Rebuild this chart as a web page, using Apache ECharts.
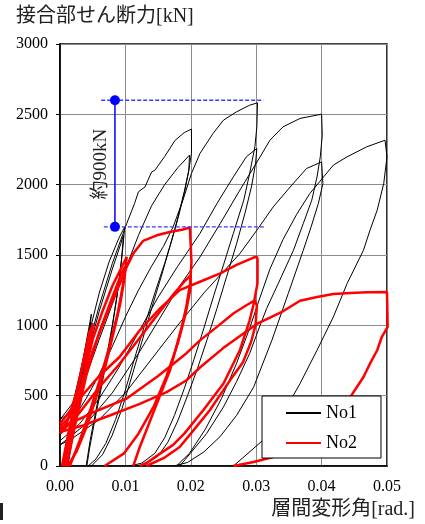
<!DOCTYPE html>
<html><head><meta charset="utf-8">
<script src="https://cdn.jsdelivr.net/npm/echarts@6/dist/echarts.min.js"></script>
<style>html,body{margin:0;padding:0;background:#fff}#c{width:425px;height:524px}</style>
</head><body><div id="c"></div>
<script>
// axis ranges [min, max, interval]
const xRange = [0, 0.05, 0.01];
const yRange = [0, 3000, 500];
const seriesNames = ['No1', 'No2'];
const titleText = '接合部せん断力[kN]';
const xName = '層間変形角[rad.]';
const noteText = '約900kN';

// No1 (black) hysteresis branches [drift, shear]
const no1S1 = [[0.0003,0],[0.001,180],[0.002,400],[0.0035,750],[0.0048,1080],[0.0045,950],[0.0036,680],[0.0024,380],[0.0012,120],[0.0006,0]];
const no1S2 = [[0,230],[0.001,300],[0.002,450],[0.003,650],[0.0042,900],[0.0047,1020],[0.0044,880],[0.0035,600],[0.0025,340],[0.0015,120],[0.0009,0]];
const no1S3 = [[0,330],[0.0015,380],[0.003,560],[0.0045,850],[0.005,960],[0.0046,850],[0.0037,620],[0.0028,400],[0.0018,160],[0.0012,0]];
const no1C1a = [[0.0005,0],[0.0015,250],[0.003,600],[0.0045,950],[0.006,1230],[0.0075,1450],[0.009,1620],[0.0099,1700],[0.0096,1550],[0.009,1300],[0.008,1000],[0.0068,700],[0.0056,420],[0.0046,180],[0.004,0]];
const no1C1b = [[0,300],[0.002,420],[0.004,760],[0.006,1100],[0.008,1400],[0.0093,1580],[0.0097,1640],[0.0094,1460],[0.0087,1200],[0.0077,900],[0.0065,600],[0.0053,320],[0.0045,120],[0.0041,0]];
const no1C2a = [[0,330],[0.002,450],[0.004,790],[0.006,1140],[0.008,1440],[0.0102,1724],[0.0114,1866],[0.012,1950],[0.013,1984],[0.014,2090],[0.0145,2102],[0.016,2200],[0.0176,2315],[0.019,2370],[0.0201,2395],[0.0201,2222],[0.0196,2080],[0.0191,1961],[0.0181,1771],[0.0171,1605],[0.016,1440],[0.0145,1230],[0.013,1010],[0.0115,780],[0.01,540],[0.0085,330],[0.007,160],[0.0055,50],[0.0043,0]];
const no1C2b = [[0,250],[0.002,380],[0.004,640],[0.006,900],[0.008,1150],[0.01,1400],[0.012,1640],[0.014,1850],[0.016,2000],[0.018,2120],[0.0198,2210],[0.0201,2222],[0.0197,2100],[0.019,1950],[0.018,1760],[0.0168,1560],[0.0155,1350],[0.014,1120],[0.0125,880],[0.011,640],[0.0095,410],[0.008,220],[0.0065,80],[0.0048,0]];
const no1C3a = [[0,220],[0.002,330],[0.004,480],[0.006,650],[0.008,850],[0.01,1060],[0.012,1250],[0.014,1420],[0.0158,1560],[0.0173,1700],[0.0188,1890],[0.0201,2080],[0.0214,2222],[0.0234,2364],[0.025,2459],[0.027,2518],[0.029,2565],[0.0302,2582],[0.0301,2411],[0.0298,2269],[0.029,2080],[0.0281,1890],[0.0265,1653],[0.025,1430],[0.0235,1210],[0.022,980],[0.0205,760],[0.019,550],[0.0175,360],[0.016,200],[0.0145,90],[0.0125,20],[0.0106,0]];
const no1C3b = [[0,180],[0.003,300],[0.006,480],[0.009,700],[0.012,950],[0.015,1200],[0.018,1420],[0.0214,1653],[0.024,1866],[0.0265,2055],[0.0285,2198],[0.0301,2258],[0.0299,2150],[0.0293,1990],[0.0283,1800],[0.027,1580],[0.0255,1350],[0.024,1120],[0.0225,900],[0.021,690],[0.0195,500],[0.018,320],[0.0165,170],[0.015,70],[0.013,10],[0.0112,0]];
const no1C4a = [[0,150],[0.004,300],[0.008,520],[0.012,800],[0.015,1030],[0.018,1260],[0.0214,1486],[0.0245,1724],[0.0275,1961],[0.0306,2198],[0.0321,2316],[0.0341,2411],[0.0367,2471],[0.04,2501],[0.0401,2350],[0.0398,2198],[0.0393,2055],[0.0385,1890],[0.0372,1724],[0.0357,1534],[0.0334,1300],[0.0316,1120],[0.0306,1000],[0.029,800],[0.027,600],[0.025,420],[0.0224,230],[0.0199,88],[0.0183,0]];
const no1C4b = [[0,150],[0.002,200],[0.006,330],[0.01,520],[0.014,760],[0.018,1000],[0.022,1230],[0.0275,1510],[0.0301,1676],[0.0326,1842],[0.0352,1984],[0.0377,2115],[0.04,2162],[0.0402,2008],[0.0395,1866],[0.0384,1700],[0.0372,1534],[0.0349,1226],[0.0324,894],[0.0296,560],[0.027,360],[0.0245,210],[0.022,100],[0.0195,25],[0.0174,0]];
const no1C5 = [[0.0178,0],[0.0198,90],[0.0222,260],[0.0247,480],[0.027,730],[0.029,980],[0.0306,1200],[0.0321,1400],[0.0341,1610],[0.0362,1790],[0.0382,1937],[0.0403,2055],[0.0418,2139],[0.0439,2198],[0.0469,2269],[0.0497,2316],[0.05,2310],[0.05,2198],[0.0495,2008],[0.0485,1819],[0.0474,1676],[0.0464,1534],[0.0439,1297],[0.0418,1060],[0.0393,823],[0.0367,586],[0.0347,420],[0.031,182],[0.028,60],[0.0265,0]];

// No2 (red) hysteresis branches [drift, shear]
const no2S1 = [[0.0003,0],[0.0015,280],[0.003,620],[0.0045,950],[0.0051,1013],[0.0047,900],[0.0037,650],[0.0025,380],[0.0012,120],[0.0005,0]];
const no2S2 = [[0,250],[0.001,300],[0.0025,520],[0.004,820],[0.005,1000],[0.0046,880],[0.0036,640],[0.0024,400],[0.0012,150],[0.0007,0]];
const no2C1a = [[0.0005,0],[0.002,300],[0.0035,620],[0.005,900],[0.0065,1100],[0.008,1280],[0.0095,1420],[0.0102,1486],[0.0099,1350],[0.0092,1150],[0.0082,950],[0.007,720],[0.0055,480],[0.004,270],[0.0025,100],[0.0012,0]];
const no2C1b = [[0.001,0],[0.0025,330],[0.004,640],[0.006,950],[0.008,1200],[0.0095,1380],[0.01,1420],[0.0096,1280],[0.0088,1080],[0.0075,840],[0.006,600],[0.0045,380],[0.003,180],[0.0015,0]];
const no2C2a = [[0,280],[0.0015,350],[0.003,520],[0.005,820],[0.007,1060],[0.009,1280],[0.0102,1415],[0.0112,1510],[0.0127,1600],[0.0148,1640],[0.0168,1664],[0.0188,1681],[0.01985,1695],[0.0201,1690],[0.0201,1450],[0.0199,1300],[0.0193,1130],[0.0186,986],[0.0168,678],[0.0142,371],[0.0122,135],[0.0112,0]];
const no2C2b = [[0,230],[0.003,380],[0.006,560],[0.009,720],[0.012,900],[0.015,1080],[0.0175,1230],[0.019,1310],[0.02,1356],[0.0199,1250],[0.0192,1080],[0.018,870],[0.0163,640],[0.0143,420],[0.012,230],[0.0098,90],[0.0068,0]];
const no2C3a = [[0,300],[0.003,480],[0.006,640],[0.0091,775],[0.0122,965],[0.0153,1120],[0.0183,1250],[0.0214,1310],[0.0245,1370],[0.027,1430],[0.0296,1482],[0.0301,1487],[0.0302,1470],[0.0302,1300],[0.0296,1150],[0.029,1036],[0.0275,823],[0.025,586],[0.0219,396],[0.019,230],[0.0173,150],[0.0153,88],[0.0135,30],[0.0122,0]];
const no2C3b = [[0,270],[0.005,380],[0.0102,480],[0.015,640],[0.0193,800],[0.0214,893],[0.024,989],[0.0265,1084],[0.0285,1143],[0.0298,1177],[0.0301,1140],[0.0299,1000],[0.0292,880],[0.028,740],[0.026,609],[0.0229,396],[0.02,230],[0.0183,135],[0.016,60],[0.0132,0]];
const no2C5 = [[0,241],[0.0035,288],[0.0076,359],[0.0122,442],[0.0163,525],[0.0193,608],[0.0214,700],[0.025,840],[0.0301,1010],[0.0341,1100],[0.0367,1175],[0.0393,1202],[0.0418,1222],[0.0444,1230],[0.047,1236],[0.05,1237],[0.0501,1237],[0.0501,989],[0.0492,917],[0.0485,823],[0.0474,728],[0.0464,633],[0.0454,562],[0.0444,491],[0.042,380],[0.039,260],[0.036,140],[0.0326,64],[0.0296,28],[0.0265,0]];

const no1Loops = [no1S1,no1S2,no1S3,no1C1a,no1C1b,no1C2a,no1C2b,no1C3a,no1C3b,no1C4a,no1C4b,no1C5];
const no2Loops = [no2S1,no2S2,no2C1a,no2C1b,no2C2a,no2C2b,no2C3a,no2C3b,no2C5];

// annotation: ~900 kN difference
const noteX = [0.0084];
const noteLevels = [1700, 2600];
const noteDashTop = [[0.0063,2600],[0.0311,2600]];
const noteDashBot = [[0.0067,1700],[0.0313,1700]];

const SERIF = 'Liberation Serif';
const FONT = '"Liberation Serif", "Noto Sans CJK JP", serif';
const chart = echarts.init(document.getElementById('c'), null, {renderer:'canvas'});

const series = [];
no1Loops.forEach(d => series.push({
  name: seriesNames[0], type:'line', data:d, symbol:'none', smooth:false, silent:true,
  lineStyle:{color:'#000', width:1}, itemStyle:{color:'#000'}, z:2
}));
no2Loops.forEach(d => series.push({
  name: seriesNames[1], type:'line', data:d, symbol:'none', smooth:false, silent:true,
  lineStyle:{color:'#ff0000', width:2.5}, itemStyle:{color:'#ff0000'}, z:3
}));
series.push({
  name:'noteTop', type:'line', data:noteDashTop, symbol:'none', silent:true,
  lineStyle:{color:'#3a3aff', width:1.3, type:[4,2]}, z:4
});
series.push({
  name:'noteBot', type:'line', data:noteDashBot, symbol:'none', silent:true,
  lineStyle:{color:'#3a3aff', width:1.3, type:[4,2]}, z:4
});
series.push({
  name:'noteV', type:'line', data:noteLevels.map(v => [noteX[0], v]), symbol:'circle', symbolSize:10, showSymbol:true, silent:true,
  lineStyle:{color:'#0000ff', width:1.5}, itemStyle:{color:'#0000ff'}, z:5
});

chart.setOption({
  animation:false,
  backgroundColor:'#fff',
  grid:{left:60, right:38, top:44, bottom:58, show:true, borderColor:'#000', borderWidth:1.6, backgroundColor:'transparent'},
  xAxis:{type:'value', min:xRange[0], max:xRange[1], interval:xRange[2],
    axisLine:{show:true, lineStyle:{color:'#000', width:1.6}},
    axisTick:{show:false},
    axisLabel:{margin:13, fontSize:16, fontFamily:SERIF, color:'#000', formatter:v => v.toFixed(2)},
    splitLine:{show:true, lineStyle:{color:'#8c8c8c', width:1}}},
  yAxis:{type:'value', min:yRange[0], max:yRange[1], interval:yRange[2],
    axisLine:{show:true, lineStyle:{color:'#000', width:1.6}},
    axisTick:{show:true, inside:false, length:4, lineStyle:{color:'#000', width:1}},
    axisLabel:{margin:12, fontSize:16, fontFamily:SERIF, color:'#000', formatter:v => String(Math.round(v))},
    splitLine:{show:true, lineStyle:{color:'#8c8c8c', width:1}}},
  legend:{data:seriesNames, orient:'vertical', left:262, top:396,
    padding:[8,24,6,23], itemGap:12, itemWidth:35, itemHeight:14,
    itemStyle:{opacity:0},
    backgroundColor:'#fff', borderColor:'#000', borderWidth:1, borderRadius:0,
    selectedMode:false, textStyle:{fontSize:18, fontFamily:SERIF, color:'#000', lineHeight:18}},
  series:series
});

const p = chart.convertToPixel({gridIndex:0}, [noteX[0], 2146]);
chart.setOption({
  graphic:[
    {type:'text', x:16, y:17, style:{text:titleText, font:'20px ' + FONT, fill:'#222', textAlign:'left', textVerticalAlign:'middle'}},
    {type:'text', x:415, y:510, style:{text:xName, font:'20px ' + FONT, fill:'#222', textAlign:'right', textVerticalAlign:'middle'}},
    {type:'text', x:p[0]-14, y:p[1], rotation:Math.PI/2, style:{text:noteText, font:'19px ' + FONT, fill:'#222', textAlign:'center', textVerticalAlign:'middle'}, z:10},
    {type:'rect', shape:{x:0, y:503, width:3, height:17}, style:{fill:'#222'}}
  ]
});
</script></body></html>
